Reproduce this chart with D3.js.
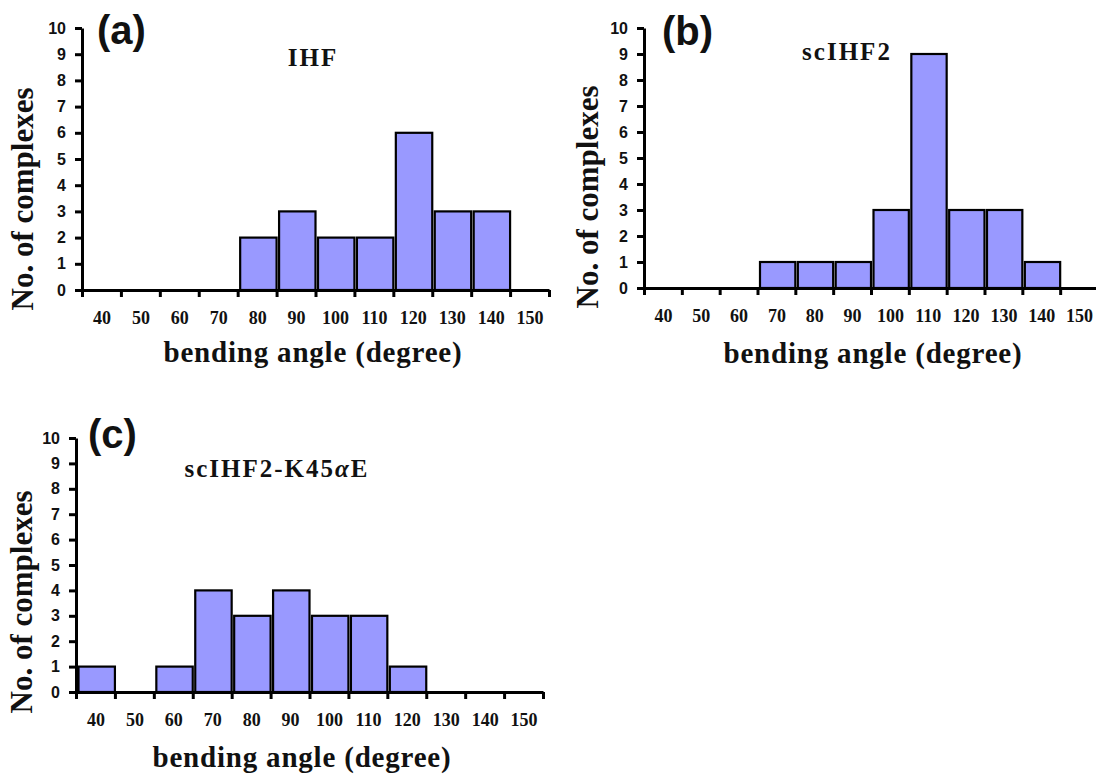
<!DOCTYPE html>
<html>
<head>
<meta charset="utf-8">
<script src="https://cdn.jsdelivr.net/npm/d3@7"></script>
<style>
  html, body { margin: 0; padding: 0; background: #fff; }
  svg { display: block; }
</style>
</head>
<body>
<svg id="chart" width="1096" height="776"></svg>
<script>
// ---- data ----
const angles = [40, 50, 60, 70, 80, 90, 100, 110, 120, 130, 140, 150];
const yTicks = [0, 1, 2, 3, 4, 5, 6, 7, 8, 9, 10];
const countsIHF = [0, 0, 0, 0, 2, 3, 2, 2, 6, 3, 3, 0];
const countsScIHF2 = [0, 0, 0, 1, 1, 1, 3, 9, 3, 3, 1, 0];
const countsK45E = [1, 0, 1, 4, 3, 4, 3, 3, 1, 0, 0, 0];
const panelLetters = ["(a)", "(b)", "(c)"];
const panelTitles = ["IHF", "scIHF2", "scIHF2-K45αE"];
const xTitle = "bending angle (degree)";
const yTitle = "No. of complexes";

// ---- layout (positions / sizes only) ----
const panels = [
  { data: countsIHF, x0: 82, x1: 549, y0: 290, y10: 28,
    letter: { x: 97, y: 44 }, title: { x: 313, y: 66 },
    xt: { x: 313, y: 362 }, yt: { x: 33, y: 199 } },
  { data: countsScIHF2, x0: 644, x1: 1098, y0: 288, y10: 28,
    letter: { x: 662, y: 45 }, title: { x: 847, y: 60 },
    xt: { x: 873, y: 363 }, yt: { x: 598, y: 197 } },
  { data: countsK45E, x0: 76, x1: 543, y0: 692, y10: 438,
    letter: { x: 88, y: 448 }, title: { x: 277, y: 477 },
    xt: { x: 302, y: 767 }, yt: { x: 32, y: 602 } }
];

const serif = "'Liberation Serif', 'Times New Roman', Times, serif";
const sans = "'Liberation Sans', Arial, Helvetica, sans-serif";
const barFill = "#9999ff";

const svg = d3.select("#chart");

panels.forEach((p, i) => {
  const g = svg.append("g");
  const step = angles[1] - angles[0];
  const x = d3.scaleLinear()
    .domain([angles[0] - step / 2, angles[angles.length - 1] + step / 2])
    .range([p.x0, p.x1]);
  const y = d3.scaleLinear().domain([0, 10]).range([p.y0, p.y10]);
  const edges = angles.map(a => a - step / 2).concat([angles[angles.length - 1] + step / 2]);

  // bars
  const rows = angles.map((a, k) => ({ a, v: p.data[k] })).filter(d => d.v > 0);
  g.selectAll("rect.bar").data(rows).enter().append("rect")
    .attr("class", "bar")
    .attr("x", d => x(d.a - step / 2) + 2.5)
    .attr("width", d => x(d.a + step / 2) - x(d.a - step / 2) - 2.5)
    .attr("y", d => y(d.v))
    .attr("height", d => y(0) - y(d.v))
    .attr("fill", barFill)
    .attr("stroke", "#000")
    .attr("stroke-width", 2.2);

  // x axis: ticks at bin edges
  const xAxisG = g.append("g")
    .attr("transform", `translate(0,${p.y0})`)
    .call(d3.axisBottom(x).tickValues(edges).tickFormat("").tickSize(7).tickSizeOuter(0));
  xAxisG.select(".domain").attr("stroke", "#000").attr("stroke-width", 3);
  xAxisG.selectAll(".tick line").attr("stroke", "#000").attr("stroke-width", 3);

  // x labels at bin centres
  const xLab = g.append("g")
    .attr("transform", `translate(0,${p.y0})`)
    .call(d3.axisBottom(x).tickValues(angles).tickFormat(d3.format("d")).tickSize(0).tickPadding(21));
  xLab.select(".domain").remove();
  xLab.attr("font-size", 18);
  xLab.selectAll("text")
    .attr("font-family", serif).attr("font-weight", "bold")
    .attr("font-size", 18).attr("fill", "#111");

  // y axis
  const yAxisG = g.append("g")
    .attr("transform", `translate(${p.x0},0)`)
    .call(d3.axisLeft(y).tickValues(yTicks).tickFormat(d3.format("d")).tickSize(7).tickSizeOuter(0).tickPadding(9));
  yAxisG.attr("font-size", 16);
  yAxisG.select(".domain").attr("stroke", "#000").attr("stroke-width", 3);
  yAxisG.selectAll(".tick line").attr("stroke", "#000").attr("stroke-width", 3);
  yAxisG.selectAll("text")
    .attr("font-family", sans).attr("font-weight", "bold")
    .attr("font-size", 16).attr("fill", "#111");

  // panel letter
  g.append("text")
    .attr("x", p.letter.x).attr("y", p.letter.y)
    .attr("font-family", sans).attr("font-weight", "bold")
    .attr("font-size", 40).attr("fill", "#111")
    .text(panelLetters[i]);

  // panel title
  const t = g.append("text")
    .attr("x", p.title.x).attr("y", p.title.y)
    .attr("text-anchor", "middle")
    .attr("font-family", serif).attr("font-weight", "bold")
    .attr("font-size", 25).attr("letter-spacing", 2).attr("fill", "#111");
  const title = panelTitles[i];
  const ai = title.indexOf("α");
  if (ai >= 0) {
    t.append("tspan").text(title.slice(0, ai));
    t.append("tspan").attr("font-style", "italic").text("α");
    t.append("tspan").text(title.slice(ai + 1));
  } else {
    t.text(title);
  }

  // x title
  g.append("text")
    .attr("x", p.xt.x).attr("y", p.xt.y)
    .attr("text-anchor", "middle")
    .attr("font-family", serif).attr("font-weight", "bold")
    .attr("font-size", 29).attr("letter-spacing", 0.8).attr("fill", "#111")
    .text(xTitle);

  // y title
  g.append("text")
    .attr("transform", `translate(${p.yt.x},${p.yt.y}) rotate(-90)`)
    .attr("text-anchor", "middle")
    .attr("font-family", serif).attr("font-weight", "bold")
    .attr("font-size", 31).attr("fill", "#111")
    .text(yTitle);
});
</script>
</body>
</html>
